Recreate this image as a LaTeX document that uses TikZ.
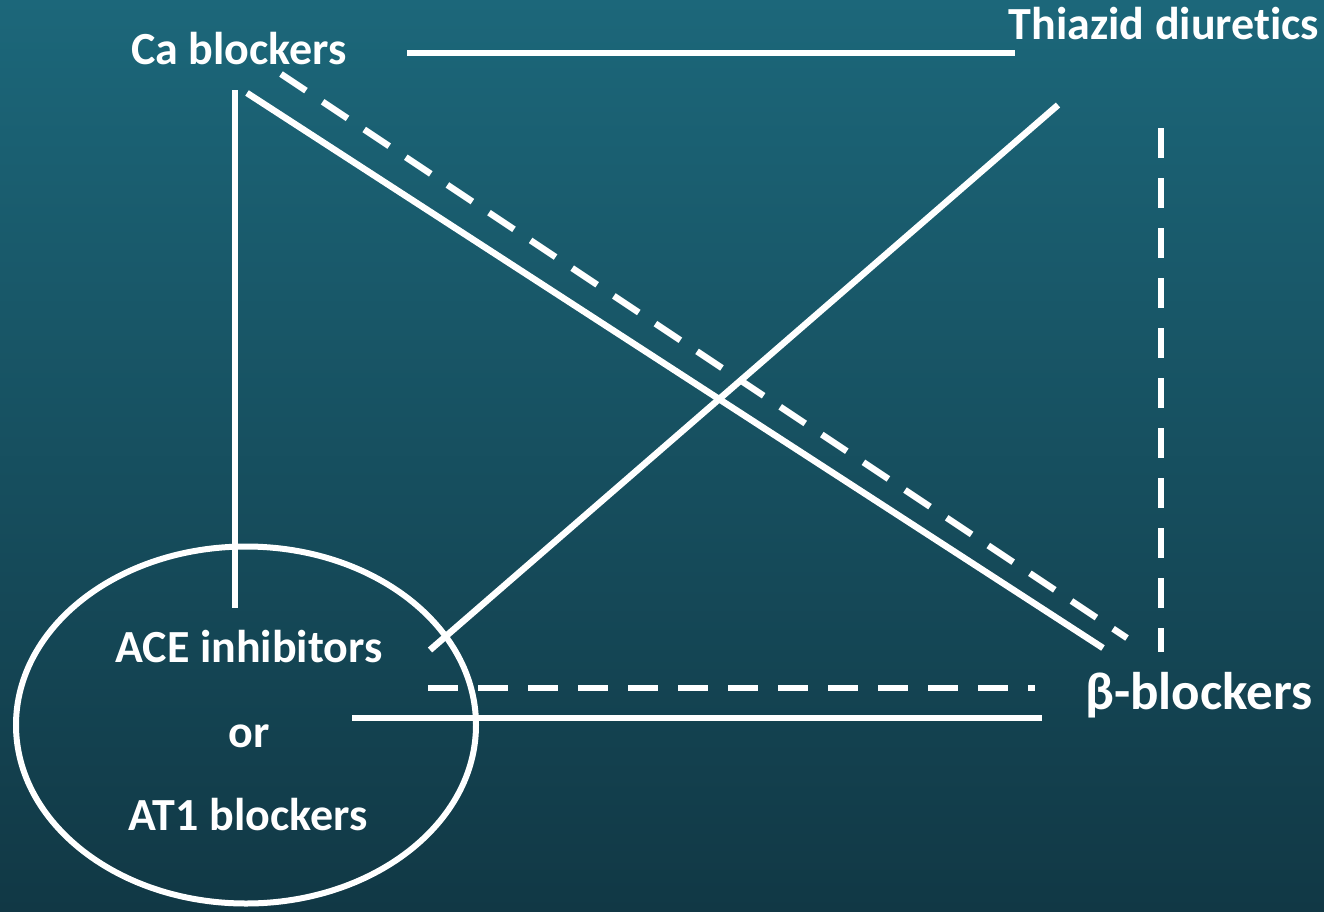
\documentclass[tikz,border=0pt]{standalone}
\usepackage{fontspec}
\setmainfont{Carlito}[Ligatures={NoCommon,NoContextual,NoRare}]
\usetikzlibrary{positioning, shapes.geometric}
\definecolor{bgtop}{RGB}{28,103,122}
\definecolor{bgbottom}{RGB}{17,56,69}

\begin{document}
\begin{tikzpicture}[
  x=1pt, y=-1pt,
  drug/.style={text=white, font=\fontsize{46}{50}\selectfont\bfseries,
    inner sep=0pt, anchor=base},
  link/.style={white, line width=6.5pt},
  weak/.style={link, dash pattern=on 30pt off 20pt},
  group/.style={ellipse, draw=white, line width=6pt,
    minimum width=460pt, minimum height=357pt, inner sep=0pt},
]

% Background
\shade[top color=bgtop, bottom color=bgbottom] (0,0) rectangle (1324,911);
\useasboundingbox (0,0) rectangle (1324,911);

% Drug classes
\node[drug] (ca) at (239, 64) {Ca blockers};
\node[drug] (thz) at (1164, 39) {Thiazid diuretics};
\node[drug, font=\fontsize{53}{58}\selectfont\bfseries] (beta) at (1199, 709) {β-blockers};
\node[group] (raas) at (246, 725) {};
\node[drug] (ace) at (249, 662) {ACE inhibitors};
\node[drug] (or) at (249, 747) {or};
\node[drug] (at1) at (248, 830) {AT1 blockers};

% Line ends
\coordinate (ca-thz) at (407, 53);
\coordinate (thz-ca) at (1015, 53);
\coordinate (ca-ace) at (235, 90);
\coordinate (ace-ca) at (235, 608);
\coordinate (ca-beta) at (247, 93);
\coordinate (beta-ca) at (1103, 648);
\coordinate (ca-beta2) at (281, 74);
\coordinate (beta-ca2) at (1127, 638);
\coordinate (thz-ace) at (1058, 105);
\coordinate (ace-thz) at (430, 650);
\coordinate (thz-beta) at (1161, 128);
\coordinate (beta-thz) at (1161, 652);
\coordinate (ace-beta) at (428, 688);
\coordinate (beta-ace) at (1035, 688);
\coordinate (ace-beta2) at (352, 718);
\coordinate (beta-ace2) at (1042, 718);

% Combinations
\draw[link] (ca-thz) -- (thz-ca);
\draw[link] (ca-ace) -- (ace-ca);
\draw[link] (ca-beta) -- (beta-ca);
\draw[weak] (ca-beta2) -- (beta-ca2);
\draw[link] (thz-ace) -- (ace-thz);
\draw[weak] (thz-beta) -- (beta-thz);
\draw[weak] (ace-beta) -- (beta-ace);
\draw[link] (ace-beta2) -- (beta-ace2);

\end{tikzpicture}
\end{document}
